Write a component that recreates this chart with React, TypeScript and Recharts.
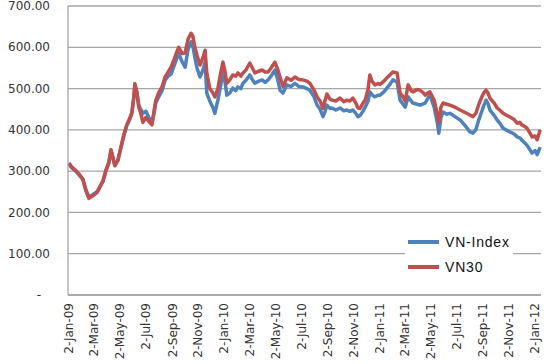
import { CartesianGrid, Legend, Line, LineChart, XAxis, YAxis } from 'recharts';

const dates = [
  '2009-01-02', '2009-01-09', '2009-01-18', '2009-01-25', '2009-02-04', '2009-02-11', '2009-02-18', '2009-02-27',
  '2009-03-09', '2009-03-16', '2009-03-23', '2009-03-30', '2009-04-06', '2009-04-11', '2009-04-15', '2009-04-20',
  '2009-04-27', '2009-05-04', '2009-05-11', '2009-05-18', '2009-05-25', '2009-05-30', '2009-06-04', '2009-06-06',
  '2009-06-11', '2009-06-15', '2009-06-20', '2009-06-25', '2009-07-02', '2009-07-09', '2009-07-16', '2009-07-21',
  '2009-07-25', '2009-08-01', '2009-08-09', '2009-08-16', '2009-08-23', '2009-08-30', '2009-09-06', '2009-09-13',
  '2009-09-17', '2009-09-25', '2009-10-02', '2009-10-09', '2009-10-16', '2009-10-20', '2009-10-25', '2009-10-30',
  '2009-11-06', '2009-11-13', '2009-11-18', '2009-11-22', '2009-11-29', '2009-12-06', '2009-12-11', '2009-12-18',
  '2009-12-25', '2009-12-30', '2010-01-04', '2010-01-08', '2010-01-15', '2010-01-22', '2010-01-29', '2010-02-03',
  '2010-02-10', '2010-02-15', '2010-02-22', '2010-03-03', '2010-03-10', '2010-03-15', '2010-03-24', '2010-04-01',
  '2010-04-08', '2010-04-15', '2010-04-22', '2010-05-01', '2010-05-08', '2010-05-13', '2010-05-20', '2010-05-29',
  '2010-06-08', '2010-06-17', '2010-06-26', '2010-07-06', '2010-07-15', '2010-07-22', '2010-08-01', '2010-08-08',
  '2010-08-15', '2010-08-22', '2010-08-27', '2010-08-31', '2010-09-07', '2010-09-12', '2010-09-21', '2010-10-01',
  '2010-10-10', '2010-10-17', '2010-10-24', '2010-10-31', '2010-11-07', '2010-11-12', '2010-11-17', '2010-11-24',
  '2010-11-29', '2010-12-06', '2010-12-10', '2010-12-15', '2010-12-22', '2010-12-29', '2011-01-03', '2011-01-12',
  '2011-01-19', '2011-01-26', '2011-02-02', '2011-02-12', '2011-02-19', '2011-02-26', '2011-03-03', '2011-03-10',
  '2011-03-17', '2011-03-21', '2011-03-31', '2011-04-07', '2011-04-14', '2011-04-19', '2011-04-26', '2011-04-30',
  '2011-05-05', '2011-05-10', '2011-05-17', '2011-05-21', '2011-05-26', '2011-05-31', '2011-06-09', '2011-06-16',
  '2011-06-28', '2011-07-10', '2011-07-22', '2011-08-02', '2011-08-09', '2011-08-16', '2011-08-23', '2011-08-30',
  '2011-09-04', '2011-09-09', '2011-09-14', '2011-09-18', '2011-09-28', '2011-10-05', '2011-10-12', '2011-10-19',
  '2011-10-26', '2011-11-04', '2011-11-14', '2011-11-21', '2011-11-28', '2011-12-02', '2011-12-09', '2011-12-14',
  '2011-12-21', '2011-12-26', '2012-01-02', '2012-01-07', '2012-01-14'
];

const vnIndex = [
  317, 308, 300, 292, 280, 255, 238, 243,
  250, 262, 275, 300, 320, 350, 335, 315,
  325, 355, 385, 410, 425, 440, 480, 508,
  490, 460, 450, 440, 445, 430, 415, 440,
  465, 480, 495, 520, 530, 535, 555, 575,
  585, 565, 552, 595, 613, 605, 575, 550,
  528, 545, 564, 489, 470, 455, 440, 472,
  510, 540, 515, 484, 489, 501, 495, 504,
  500, 513, 520, 533, 520, 513, 518, 521,
  515, 521, 530, 545, 520, 496, 489, 509,
  505, 513, 505, 504, 500, 496, 480, 460,
  450, 432, 445, 460, 452, 453, 448, 453,
  446, 448, 445, 448, 440, 432, 435, 445,
  455, 470, 492, 485, 480, 484, 484, 492,
  501, 510, 521, 516, 472, 462, 455, 480,
  470, 465, 462, 460, 463, 465, 478, 484,
  470, 455, 420, 392, 430, 443, 438, 440,
  432, 424, 410, 395, 392, 400, 425, 445,
  460, 472, 462, 448, 435, 424, 415, 404,
  400, 395, 390, 383, 380, 375, 368, 363,
  352, 344, 350, 340, 358
];

const vn30 = [
  320, 310, 302, 294, 280, 253, 234, 240,
  248, 262, 276, 302, 322, 352, 334, 313,
  326, 357, 388, 412, 428, 442, 484, 512,
  490, 456, 440, 418, 430, 420, 412, 445,
  470, 490, 505, 528, 540, 552, 570, 590,
  600, 585, 586, 620, 634, 628, 600, 581,
  557, 575, 593, 538, 500, 490, 480, 500,
  540, 564, 540, 513, 521, 533, 530, 538,
  530, 538, 545, 562, 548, 538, 542, 545,
  540, 540, 550, 564, 545, 528, 505, 526,
  520, 528, 522, 521, 518, 513, 496, 480,
  470, 452, 472, 487, 475, 472, 470, 477,
  468, 472, 470, 477, 465, 453, 452, 465,
  472, 500, 533, 518, 509, 512, 510, 518,
  526, 533, 540, 538, 489, 480, 470, 509,
  495, 492, 498, 496, 490, 484, 490, 492,
  482, 472, 440, 416, 455, 465, 462, 460,
  455, 448, 442, 436, 432, 440, 462, 480,
  490, 496, 488, 477, 465, 453, 447, 440,
  436, 431, 425, 416, 418, 412, 408, 404,
  392, 383, 385, 376, 400
];

const yTicks = [0, 100, 200, 300, 400, 500, 600, 700];

const xTickDates = [
  '2009-01-02', '2009-03-02', '2009-05-02', '2009-07-02', '2009-09-02', '2009-11-02',
  '2010-01-02', '2010-03-02', '2010-05-02', '2010-07-02', '2010-09-02', '2010-11-02',
  '2011-01-02', '2011-03-02', '2011-05-02', '2011-07-02', '2011-09-02', '2011-11-02',
  '2012-01-02'
];

const MONTHS = ['Jan', 'Feb', 'Mar', 'Apr', 'May', 'Jun', 'Jul', 'Aug', 'Sep', 'Oct', 'Nov', 'Dec'];

const BLUE = '#4f81bd';
const RED = '#c0504d';
const GRID = '#a6a6a6';

const data = dates.map((d, i) => ({ t: Date.parse(d), vnIndex: vnIndex[i], vn30: vn30[i] }));

function fmtDate(ts: number) {
  const d = new Date(ts);
  return `${d.getUTCDate()}-${MONTHS[d.getUTCMonth()]}-${String(d.getUTCFullYear()).slice(2)}`;
}

function YTick({ x, y, payload }: any) {
  const zero = payload.value === 0;
  return (
    <text
      x={zero ? x - 9 : x}
      y={y}
      dy="0.35em"
      textAnchor="end"
      fontFamily="DejaVu Sans"
      fontSize={12}
      fill="#333"
    >
      {zero ? '-' : Number(payload.value).toFixed(2)}
    </text>
  );
}

function XTick({ x, y, payload }: any) {
  return (
    <text
      transform={`translate(${x},${y}) rotate(-90)`}
      dy="0.35em"
      textAnchor="end"
      fontFamily="DejaVu Sans"
      fontSize={12}
      fill="#333"
    >
      {fmtDate(payload.value)}
    </text>
  );
}

const legendItems = [
  { label: 'VN-Index', color: BLUE },
  { label: 'VN30', color: RED }
];

function LegendBox() {
  return (
    <div style={{ width: 108, height: 52, background: '#fff', position: 'relative' }}>
      {legendItems.map((item, i) => (
        <div
          key={item.label}
          style={{ position: 'absolute', left: 3, top: 4 + i * 25, height: 20, display: 'flex', alignItems: 'center' }}
        >
          <span style={{ display: 'inline-block', width: 31, height: 4, background: item.color }} />
          <span
            style={{
              marginLeft: 6,
              fontFamily: '"Liberation Sans", Arial, sans-serif',
              fontSize: 14,
              letterSpacing: 0.8,
              color: '#111'
            }}
          >
            {item.label}
          </span>
        </div>
      ))}
    </div>
  );
}

export default function App() {
  return (
    <div style={{ position: 'absolute', left: 0, top: 0, width: 550, height: 364, background: '#fff' }}>
      <LineChart width={550} height={364} data={data} margin={{ top: 6, right: 9, left: 0, bottom: 0 }}>
        <CartesianGrid vertical={false} stroke={GRID} strokeWidth={1.3} />
        <XAxis
          dataKey="t"
          type="number"
          domain={[Date.parse('2008-12-31'), Date.parse('2012-01-16')]}
          ticks={xTickDates.map((d) => Date.parse(d))}
          interval={0}
          tick={<XTick />}
          tickLine={false}
          tickSize={0}
          tickMargin={8}
          height={69}
          axisLine={{ stroke: GRID, strokeWidth: 1.3 }}
        />
        <YAxis
          domain={[0, 700]}
          ticks={yTicks}
          interval={0}
          tick={<YTick />}
          tickLine={false}
          tickSize={0}
          tickMargin={18}
          width={68}
          axisLine={{ stroke: GRID, strokeWidth: 1.3 }}
        />
        <Legend
          layout="vertical"
          align="center"
          verticalAlign="middle"
          content={<LegendBox />}
          wrapperStyle={{ left: 405, top: 228, width: 108, height: 52 }}
        />
        <Line
          dataKey="vnIndex"
          name="VN-Index"
          stroke={BLUE}
          strokeWidth={3.5}
          strokeLinejoin="round"
          dot={false}
          isAnimationActive={false}
        />
        <Line
          dataKey="vn30"
          name="VN30"
          stroke={RED}
          strokeWidth={3.5}
          strokeLinejoin="round"
          dot={false}
          isAnimationActive={false}
        />
      </LineChart>
    </div>
  );
}
